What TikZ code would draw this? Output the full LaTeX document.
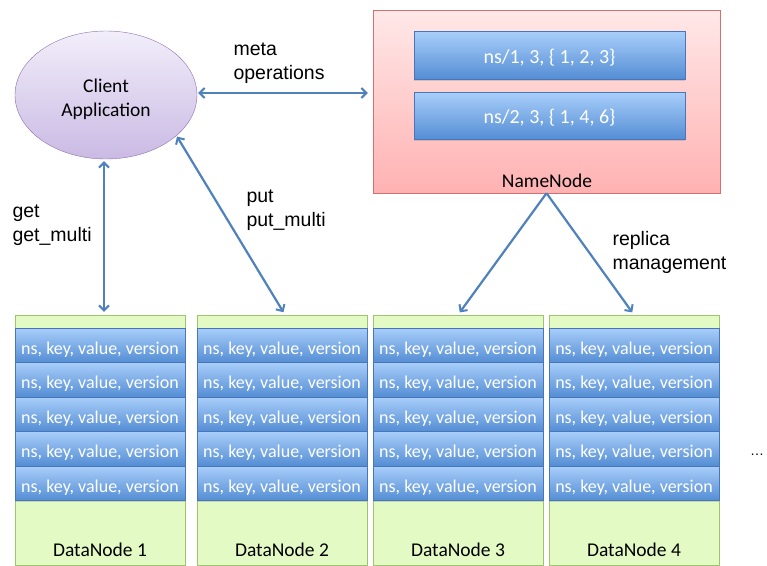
\documentclass[tikz,border=0pt]{standalone}
\usepackage{fontspec}
\setmainfont{Carlito}
\newfontfamily\arialfont{Liberation Sans}
\usetikzlibrary{arrows.meta,shapes.geometric,shadows}

\definecolor{linkblue}{RGB}{79,129,189}
\definecolor{rowtop}{RGB}{168,206,250}
\definecolor{rowbot}{RGB}{84,141,212}
\definecolor{rowline}{RGB}{72,118,186}
\definecolor{nntop}{RGB}{255,232,232}
\definecolor{nnbot}{RGB}{255,178,178}
\definecolor{nnline}{RGB}{214,112,112}
\definecolor{cltop}{RGB}{242,238,250}
\definecolor{clbot}{RGB}{202,186,228}
\definecolor{clline}{RGB}{140,112,172}
\definecolor{dnfill}{RGB}{228,250,196}
\definecolor{dnline}{RGB}{158,196,108}

\begin{document}
\begin{tikzpicture}[x=1pt, y=-1pt, >={Straight Barb[length=5pt,width=10pt,line width=2pt]}]

\tikzstyle{client}=[ellipse, draw=clline, top color=cltop, bottom color=clbot, minimum width=182pt, minimum height=128pt, align=center, text height=42pt, text depth=0pt, font=\fontsize{19.5}{24}\selectfont]
\tikzstyle{namebox}=[draw=nnline, top color=nntop, bottom color=nnbot, minimum width=347pt, minimum height=183pt, drop shadow={opacity=.25, shadow xshift=1pt, shadow yshift=-1pt}]
\tikzstyle{rowbox}=[draw=rowline, top color=rowtop, bottom color=rowbot, text=white, inner sep=0pt, font=\fontsize{18}{22}\selectfont, drop shadow={opacity=.3, shadow xshift=0pt, shadow yshift=-1.5pt}]
\tikzstyle{dnbox}=[draw=dnline, fill=dnfill, minimum width=170pt, minimum height=250pt, inner sep=0pt, drop shadow={opacity=.2, shadow xshift=1pt, shadow yshift=-1pt}]
\tikzstyle{label}=[font=\arialfont\fontsize{19.5}{24}\selectfont, align=left, anchor=west]
\tikzstyle{arrow}=[<->, draw=linkblue, line width=2.2pt]

\useasboundingbox (0,0) rectangle (767,565);

% Top left: client
\node[client] (cl) at (106,95) {Client\\Application};

% Top right: name node with its namespace table
\node[namebox] (nn) at (546.5,101.5) {};
\node[rowbox, font=\fontsize{20}{24}\selectfont, text height=17pt, text depth=2pt, minimum width=271pt, minimum height=48pt] (ns1) at (549.5,55.5) {ns/1, 3, \{ 1, 2, 3\}};
\node[rowbox, font=\fontsize{20}{24}\selectfont, text height=17pt, text depth=2pt, minimum width=271pt, minimum height=47pt] (ns2) at (549.5,116) {ns/2, 3, \{ 1, 4, 6\}};
\node[font=\fontsize{19.5}{22}\selectfont] (nnl) at (547,181) {NameNode};

% Bottom: data nodes, five rows each
\foreach \d/\cx in {1/100,2/282,3/458,4/634} {
  \node[dnbox] (dn\d) at (\cx,440) {};
  \foreach \r in {1,...,5}
    \node[rowbox, text height=18pt, text depth=0pt, minimum width=170pt, minimum height=34.5pt] (row\d\r) at (\cx,{310.75+34.5*\r}) {ns, key, value, version};
  \node[font=\fontsize{19.5}{22}\selectfont] (dnl\d) at (\cx,550) {DataNode \d};
}
\node[font=\arialfont\fontsize{14}{16}\selectfont] (more) at (757,455) {\dots};

% Links
\draw[arrow, shorten <=1pt, shorten >=5pt] ([yshift=2pt]cl.east) -- ([yshift=2pt]cl.east -| nn.west);
\draw[arrow, shorten <=2pt, shorten >=3pt] ([xshift=-2pt]cl.south) -- ([xshift=4pt]dn1.north);
\draw[arrow, shorten <=1pt, shorten >=3pt] (cl.-30) -- ([xshift=3pt]dn2.north);
\draw[arrow, <-, shorten <=3pt] (dn3.north) -- (nn.south);
\draw[arrow, <-, shorten <=3pt] (dn4.north) -- (nn.south);

% Link labels
\node[label] (lmeta) at (230,63) {meta\\operations};
\node[label] (lget) at (9,225) {get\\get\_multi};
\node[label] (lput) at (243,210) {put\\put\_multi};
\node[label] (lrep) at (609,252) {replica\\management};

\end{tikzpicture}
\end{document}
